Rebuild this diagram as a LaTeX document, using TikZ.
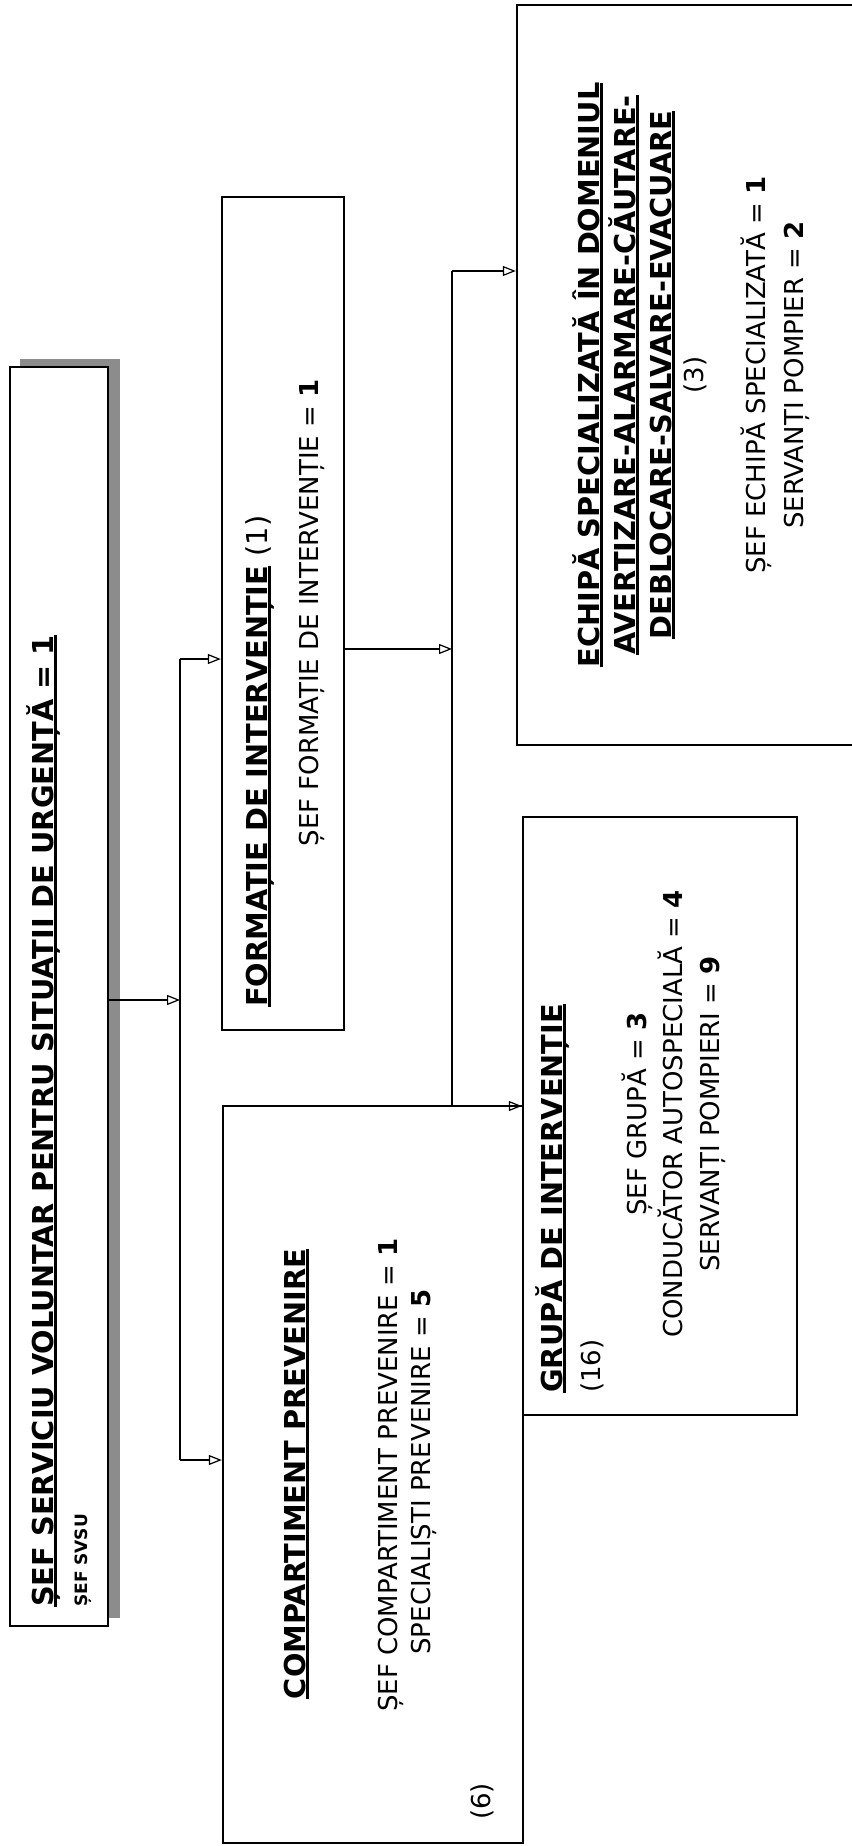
\documentclass[tikz,border=0pt]{standalone}
\usepackage{fontspec}
\setmainfont{DejaVu Sans}
\usetikzlibrary{arrows.meta}
\newcommand\myul[1]{\setbox0=\hbox{#1}\leavevmode\rlap{\rule[-3.5pt]{\wd0}{2.2pt}}\box0}
\begin{document}
\begin{tikzpicture}[x=1pt,y=-1pt,
 box/.style={draw=black, line width=2.4pt, fill=white, inner sep=0pt},
 conn/.style={draw=black, line width=1.4pt},
 arr/.style={conn, -{Triangle[open, length=13pt, width=10pt, line width=1.2pt]}},
 ttl/.style={rotate=90, inner sep=0pt, font=\fontsize{28.8}{34}\selectfont\bfseries},
 sml/.style={rotate=90, inner sep=0pt, font=\fontsize{17}{20}\selectfont\bfseries},
 txt/.style={rotate=90, inner sep=0pt, font=\fontsize{26}{32}\selectfont},
]
\useasboundingbox (0,0) rectangle (851,1846);
% shadow and main box
\fill[black!45] (20,359) rectangle (120,1618);
\node[box, minimum width=98pt, minimum height=1259pt] (A) at (59,996.5) {};
\node[ttl, anchor=base west] (tA1) at (53,1607) {\myul{ȘEF SERVICIU VOLUNTAR PENTRU SITUAȚII DE URGENȚĂ = 1}};
\node[sml, anchor=base west] (tA2) at (87,1607) {ȘEF SVSU};

% second level boxes
\node[box, minimum width=122pt, minimum height=833pt] (F) at (283,613.5) {};
\node[box, minimum width=300pt, minimum height=737pt] (C) at (373,1474.5) {};
\node[box, minimum width=274pt, minimum height=598pt] (G) at (660,1116) {};
\node[box, minimum width=353pt, minimum height=740pt] (E) at (693.5,375) {};

% texts F
\node[ttl, anchor=base west] (tF1) at (267,1007) {\myul{FORMAȚIE DE INTERVENȚIE}\mdseries{} (1)};
\node[txt, anchor=base] (tF2) at (318,613) {ȘEF FORMAȚIE DE INTERVENȚIE = \textbf{1}};
% texts C
\node[ttl, anchor=base] (tC1) at (305,1474) {\myul{COMPARTIMENT PREVENIRE}};
\node[txt, anchor=base] (tC2) at (397,1475) {ȘEF COMPARTIMENT PREVENIRE = \textbf{1}};
\node[txt, anchor=base] (tC3) at (430,1472) {SPECIALIȘTI PREVENIRE = \textbf{5}};
\node[txt, anchor=base west] (tC4) at (490,1820) {(6)};
% texts G
\node[ttl, anchor=base west] (tG1) at (562,1393) {\myul{GRUPĂ DE INTERVENȚIE}};
\node[txt, anchor=base west] (tG2) at (600,1393) {(16)};
\node[txt, anchor=base] (tG3) at (646,1114) {ȘEF GRUPĂ = \textbf{3}};
\node[txt, anchor=base] (tG4) at (682,1114) {CONDUCĂTOR AUTOSPECIALĂ = \textbf{4}};
\node[txt, anchor=base] (tG5) at (719,1114) {SERVANȚI POMPIERI = \textbf{9}};
% texts E
\node[ttl, anchor=base] (tE1) at (599,375) {\myul{ECHIPĂ SPECIALIZATĂ ÎN DOMENIUL}};
\node[ttl, anchor=base] (tE2) at (635,375) {\myul{AVERTIZARE-ALARMARE-CĂUTARE-}};
\node[ttl, anchor=base] (tE3) at (671,375) {\myul{DEBLOCARE-SALVARE-EVACUARE}};
\node[txt, anchor=base] (tE4) at (703,375) {(3)};
\node[txt, anchor=base] (tE5) at (765,375) {ȘEF ECHIPĂ SPECIALIZATĂ = \textbf{1}};
\node[txt, anchor=base] (tE6) at (803,375) {SERVANȚI POMPIER = \textbf{2}};

% connectors
\coordinate (b1top) at (180,659);
\coordinate (b1mid) at (180,1000);
\coordinate (b1bot) at (180,1460);
\coordinate (b2top) at (452,271);
\coordinate (b2mid) at (452,649);
\coordinate (b2bot) at (452,1106);
\draw[conn] (b1top) -- (b1bot);
\draw[arr] (A.east |- b1mid) -- (b1mid);
\draw[arr] (b1top) -- (F.west |- b1top);
\draw[arr] (b1bot) -- (C.west |- b1bot);
\draw[conn] (b2top) -- (b2bot);
\draw[arr] (F.east |- b2mid) -- (b2mid);
\draw[arr] (b2top) -- (E.west |- b2top);
\draw[arr] (b2bot) -- (G.west |- b2bot);
\end{tikzpicture}
\end{document}
